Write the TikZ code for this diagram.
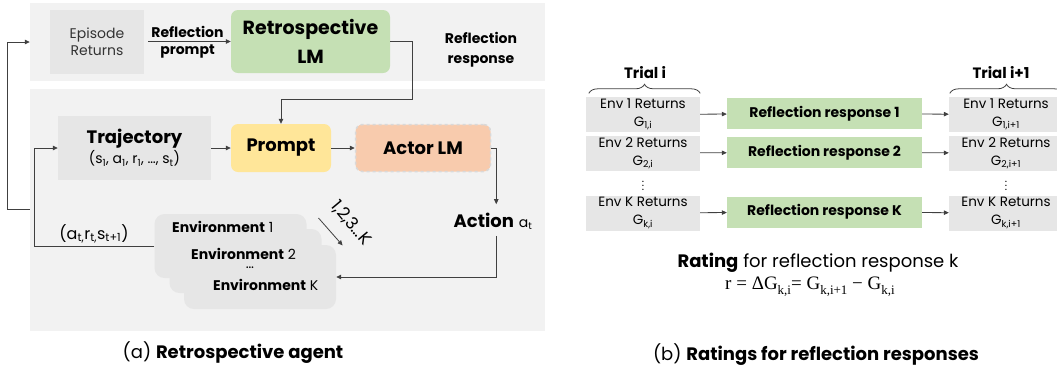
\documentclass[tikz,border=0pt]{standalone}
\usepackage[no-math]{fontspec}
\setmainfont{Poppins}
\newfontfamily\formulafont{Liberation Serif}
\usetikzlibrary{arrows.meta,decorations.pathreplacing}
\definecolor{bandgray}{HTML}{F2F2F2}
\definecolor{boxgray}{HTML}{E6E6E6}
\definecolor{lmgreen}{HTML}{C5E0B4}
\definecolor{promptyellow}{HTML}{FFE699}
\definecolor{actororange}{HTML}{F8CBAD}
\newcommand{\GRN}[0]{lmgreen}
\newcommand{\LINE}[0]{black!75}
\newcommand{\fsub}[1]{\raisebox{-0.28em}{\fontsize{13}{13}\selectfont #1}}

\begin{document}
\begin{tikzpicture}[x=1pt, y=-1pt, >={Triangle[length=5pt,width=4.5pt]},
  panel/.style={fill=bandgray, minimum width=515pt, inner sep=0pt},
  graybox/.style={fill=boxgray, inner sep=0pt, align=center},
  lmbox/.style={rounded corners=7pt, inner sep=0pt, align=center},
  card/.style={fill=boxgray, rounded corners=10pt, minimum width=152pt, minimum height=64pt, inner sep=0pt},
  wire/.style={draw=\LINE, line width=0.8pt},
  txt/.style={font=\fontsize{14}{17}\selectfont},
  big/.style={font=\fontsize{18}{22}\selectfont\bfseries},
  envtxt/.style={anchor=west, inner sep=0pt, font=\fontsize{14}{17}\selectfont},
  returns/.style={graybox, minimum width=114pt, minimum height=35pt, font=\fontsize{13.5}{18}\selectfont},
  response/.style={fill=\GRN, minimum width=195pt, minimum height=31pt, inner sep=0pt, font=\fontsize{14}{17}\selectfont\bfseries}]

  \useasboundingbox (0,0) rectangle (1057,368);

  %% (a) retrospective agent
  \node[panel, minimum height=78pt] (topband) at (287.5,42) {};
  \node[panel, minimum height=242pt] (lowpanel) at (287.5,209.5) {};

  \node[graybox, minimum width=94pt, minimum height=64pt, txt, text=black!80] (episode) at (97,41.5) {Episode\\Returns};
  \node[lmbox, fill=\GRN, minimum width=159pt, minimum height=63pt, font=\fontsize{19}{29}\selectfont\bfseries] (retro) at (310.5,41.5) {Retrospective\\LM};
  \node[align=center, font=\fontsize{14}{20}\selectfont\bfseries] (response) at (481,50) {Reflection\\response};

  \node[graybox, minimum width=153pt, minimum height=64pt] (traj) at (134.5,148)
    {{\fontsize{18}{22}\selectfont\bfseries Trajectory}\\[1pt]{\fontsize{14}{17}\selectfont (s\textsubscript{1}, a\textsubscript{1}, r\textsubscript{1}, \ldots, s\textsubscript{t})}};
  \node[lmbox, fill=promptyellow, minimum width=100pt, minimum height=48pt, big] (prompt) at (281,148) {Prompt};
  \node[lmbox, fill=actororange, draw=black!15, dashed, line width=1.5pt, minimum width=135pt, minimum height=47pt, big] (actor) at (423,148) {Actor LM};

  \node[font=\fontsize{18}{22}\selectfont] (action) at (493,221) {\textbf{Action} {\fontsize{14}{17}\selectfont a\textsubscript{t}}};
  \node[font=\fontsize{16}{18}\selectfont] (obs) at (94,234) {(a\textsubscript{t,}r\textsubscript{t,}s\textsubscript{t+1})};

  \node[card] (envA) at (230.5,246) {};
  \node[card] (envB) at (245.5,261) {};
  \node[card] (envK) at (260,277) {};
  \node[envtxt] (envAtxt) at (172,227) {\textbf{Environment} 1};
  \node[envtxt] (envBtxt) at (191,254) {\textbf{Environment} 2};
  \node[txt] (envdots) at (250,268) {\ldots};
  \node[envtxt] (envKtxt) at (213,285) {\textbf{Environment} K};

  \coordinate (kfrom) at (318.5,218);
  \coordinate (kto) at (342.6,245.4);
  \node[rotate=-50, inner sep=1pt, font=\fontsize{17}{18}\selectfont] (kcount) at (351,223) {1,2,3\ldots K};

  \draw[wire,->, shorten <=4pt] (episode.east) -- node[above, font=\fontsize{14}{17}\selectfont\bfseries]{Reflection} node[below, font=\fontsize{14}{17}\selectfont\bfseries]{prompt} (retro.west |- episode.east);
  \draw[wire,->] (retro.east) -- ++(22,0) -- ++(0,58) -| (prompt.north); %% response into prompt
  \draw[wire,->] (traj) -- (prompt);
  \draw[wire,->] (prompt) -- (actor);
  \draw[wire,->] (actor.east) -- ++(5,0) coordinate (actorout) -- ([yshift=5pt]actorout |- action.north);
  \draw[wire,->] ([yshift=-3pt]action.south -| actorout) |- (envK.east);
  \draw[wire,->] (kfrom) -- (kto);
  \draw[wire,->] (envA.west) -- ++(-119.5,0) |- (traj.west); %% inner loop
  \draw[wire,->] (lowpanel.west) -- ++(-22.4,0) |- (topband.west); %% outer loop

  \node[font=\fontsize{18}{22}\selectfont] (capa) at (233,353) {(a) \textbf{Retrospective agent}};

  %% (b) ratings
  \newcommand\XL{643}
  \newcommand\XM{824.5}
  \newcommand\XR{1006}
  \newcommand\YA{114.5}
  \newcommand\YB{153}
  \newcommand\YK{213}

  \node[returns] (leftA) at (\XL,\YA) {Env 1 Returns\\G\textsubscript{1,i}};
  \node[returns] (leftB) at (\XL,\YB) {Env 2 Returns\\G\textsubscript{2,i}};
  \node[returns] (leftK) at (\XL,\YK) {Env K Returns\\G\textsubscript{k,i}};
  \node[inner sep=0pt, font=\fontsize{11}{12}\selectfont] (dotsL) at (\XL,182.5) {$\vdots$};

  \node[response] (respA) at (\XM,\YA-1) {Reflection response 1};
  \node[response] (respB) at (\XM,\YB-0.5) {Reflection response 2};
  \node[response] (respK) at (\XM,\YK-1) {Reflection response K};

  \node[returns] (rightA) at (\XR,\YA) {Env 1 Returns\\G\textsubscript{1,i+1}};
  \node[returns] (rightB) at (\XR,\YB) {Env 2 Returns\\G\textsubscript{2,i+1}};
  \node[returns] (rightK) at (\XR,\YK) {Env K Returns\\G\textsubscript{k,i+1}};
  \node[inner sep=0pt, font=\fontsize{11}{12}\selectfont] (dotsR) at (\XR,182.5) {$\vdots$};

  \draw[wire,->] (leftA) -- (respA);
  \draw[wire,->] (respA) -- (rightA);
  \draw[wire,->] (leftB) -- (respB);
  \draw[wire,->] (respB) -- (rightB);
  \draw[wire,->] (leftK) -- (respK);
  \draw[wire,->] (respK) -- (rightK);

  \draw[wire, decorate, decoration={brace, amplitude=9pt}] ([xshift=3pt, yshift=3.5pt]leftA.north west) -- ([yshift=3.5pt]leftA.north east);
  \draw[wire, decorate, decoration={brace, amplitude=9pt}] ([xshift=1pt, yshift=3.5pt]rightA.north west) -- ([yshift=3.5pt]rightA.north east);
  \node[font=\fontsize{15}{18}\selectfont\bfseries] (trialA) at (645,73) {Trial i};
  \node[font=\fontsize{15}{18}\selectfont\bfseries] (trialB) at (1001,73) {Trial i+1};

  \node[font=\fontsize{18}{20}\selectfont] (rating) at (818,263) {\textbf{Rating} for reflection response k};
  \node[font=\fontsize{19}{20}\selectfont\formulafont] (formula) at (810,287) {r = ΔG\fsub{k,i}= G\fsub{k,i+1} − G\fsub{k,i}};

  \node[font=\fontsize{18}{22}\selectfont] (capb) at (816,355) {(b) \textbf{Ratings for reflection responses}};

\end{tikzpicture}
\end{document}
